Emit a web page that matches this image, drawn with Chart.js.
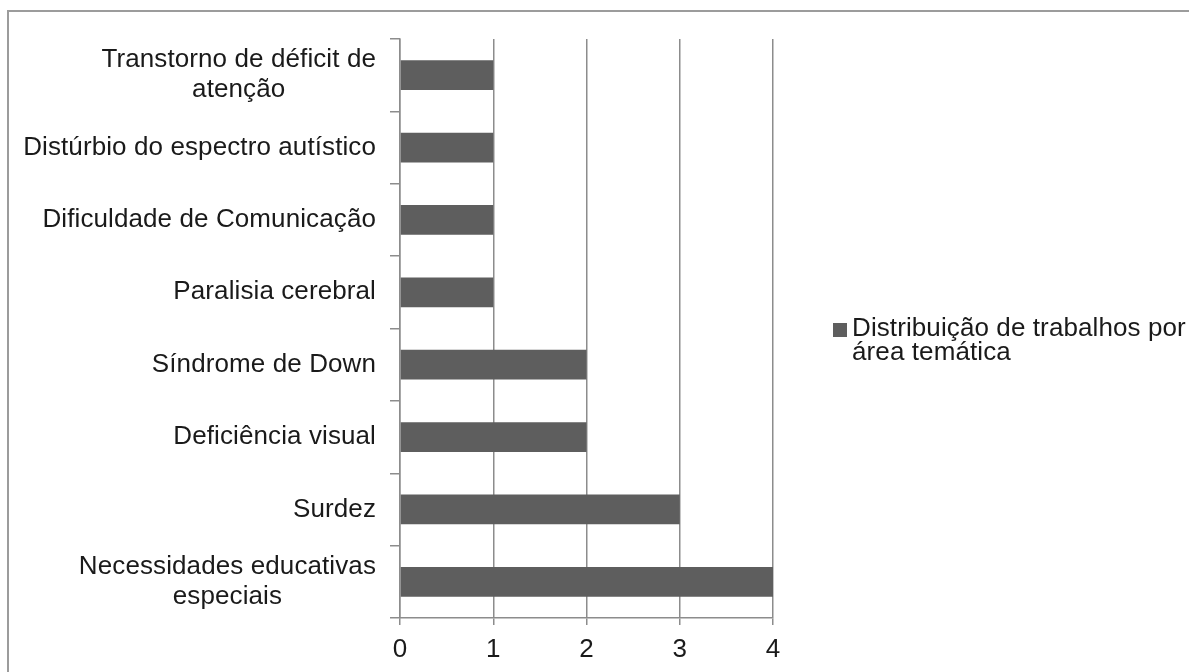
<!DOCTYPE html>
<html>
<head>
<meta charset="utf-8">
<script src="https://cdn.jsdelivr.net/npm/chart.js@4/dist/chart.umd.min.js"></script>
<style>
  html, body { margin: 0; padding: 0; background: #ffffff; }
  #wrap { width: 1189px; height: 672px; }
</style>
</head>
<body>
<div id="wrap"><canvas id="c" width="1189" height="672"></canvas></div>
<script>
// Thematic areas, listed top to bottom; wrapped labels are arrays of lines
const categories = [
  ['Transtorno de déficit de', 'atenção'],
  'Distúrbio do espectro autístico',
  'Dificuldade de Comunicação',
  'Paralisia cerebral',
  'Síndrome de Down',
  'Deficiência visual',
  'Surdez',
  ['Necessidades educativas', 'especiais']
];
// Number of papers per thematic area
const papers = [1, 1, 1, 1, 2, 2, 3, 4];
// Value-axis tick labels
const xTicks = [0, 1, 2, 3, 4];
// Legend text, drawn on two lines
const legendLines = ['Distribuição de trabalhos por', 'área temática'];

const FONT = "'Liberation Sans', Arial, sans-serif";
const FONT_SIZE = 26;
const TEXT = '#1a1a1a';
const BAR = '#5e5e5e';
const GRID = '#8c8c8c';

// Outer frame of the chart object (runs off the right and bottom edges)
const framePlugin = {
  id: 'frame',
  beforeDraw(chart) {
    const ctx = chart.ctx;
    ctx.save();
    ctx.strokeStyle = '#9c9c9c';
    ctx.lineWidth = 2;
    ctx.beginPath();
    ctx.moveTo(8, 672);
    ctx.lineTo(8, 11);
    ctx.lineTo(1189, 11);
    ctx.stroke();
    ctx.restore();
  }
};

// Category labels: block right-aligned next to the axis, lines centred within the block
const categoryLabelPlugin = {
  id: 'categoryLabels',
  afterDraw(chart) {
    const scale = chart.scales.y;
    const ctx = chart.ctx;
    const lineH = 30;
    const rightEdge = 376;
    ctx.save();
    ctx.font = FONT_SIZE + 'px ' + FONT;
    ctx.letterSpacing = '0.1px';
    ctx.fillStyle = TEXT;
    ctx.textAlign = 'center';
    ctx.textBaseline = 'middle';
    chart.data.labels.forEach((lab, i) => {
      const lines = Array.isArray(lab) ? lab : [lab];
      const w = Math.max(...lines.map(l => ctx.measureText(l).width));
      const cx = rightEdge - w / 2;
      const cy = scale.getPixelForTick(i);
      lines.forEach((l, j) => {
        ctx.fillText(l, cx, cy + (j - (lines.length - 1) / 2) * lineH);
      });
    });
    ctx.restore();
  }
};

// Legend on the right: square key plus wrapped series name
const legendPlugin = {
  id: 'sideLegend',
  afterDraw(chart) {
    const ctx = chart.ctx;
    const ds = chart.data.datasets[0];
    ctx.save();
    ctx.fillStyle = ds.backgroundColor;
    ctx.fillRect(833, 323, 14, 14);
    ctx.font = FONT_SIZE + 'px ' + FONT;
    ctx.letterSpacing = '0.1px';
    ctx.fillStyle = TEXT;
    ctx.textAlign = 'left';
    ctx.textBaseline = 'middle';
    legendLines.forEach((l, j) => ctx.fillText(l, 852, 329 + j * 24));
    ctx.restore();
  }
};

new Chart(document.getElementById('c'), {
  type: 'bar',
  data: {
    labels: categories,
    datasets: [{
      label: legendLines.join(' '),
      data: papers,
      backgroundColor: BAR,
      borderWidth: 0,
      categoryPercentage: 1,
      barPercentage: 0.41
    }]
  },
  options: {
    indexAxis: 'y',
    responsive: false,
    animation: false,
    layout: { padding: { top: 39, right: 416, bottom: 0, left: 0 } },
    plugins: {
      legend: { display: false },
      tooltip: { enabled: false }
    },
    scales: {
      x: {
        min: xTicks[0],
        max: xTicks[xTicks.length - 1],
        afterBuildTicks(scale) { scale.ticks = xTicks.map(v => ({ value: v })); },
        afterFit(scale) { scale.height = 54; },
        grid: { color: GRID, lineWidth: 1.5, tickLength: 7, drawTicks: true },
        border: { color: GRID, width: 1.5 },
        ticks: {
          font: { family: FONT, size: FONT_SIZE },
          color: TEXT,
          padding: 9
        }
      },
      y: {
        afterFit(scale) { scale.width = 400; },
        grid: { offset: true, drawOnChartArea: false, drawTicks: true, tickLength: 10, color: GRID, lineWidth: 1.5 },
        border: { color: GRID, width: 1.5 },
        ticks: { display: false }
      }
    }
  },
  plugins: [framePlugin, categoryLabelPlugin, legendPlugin]
});
</script>
</body>
</html>
